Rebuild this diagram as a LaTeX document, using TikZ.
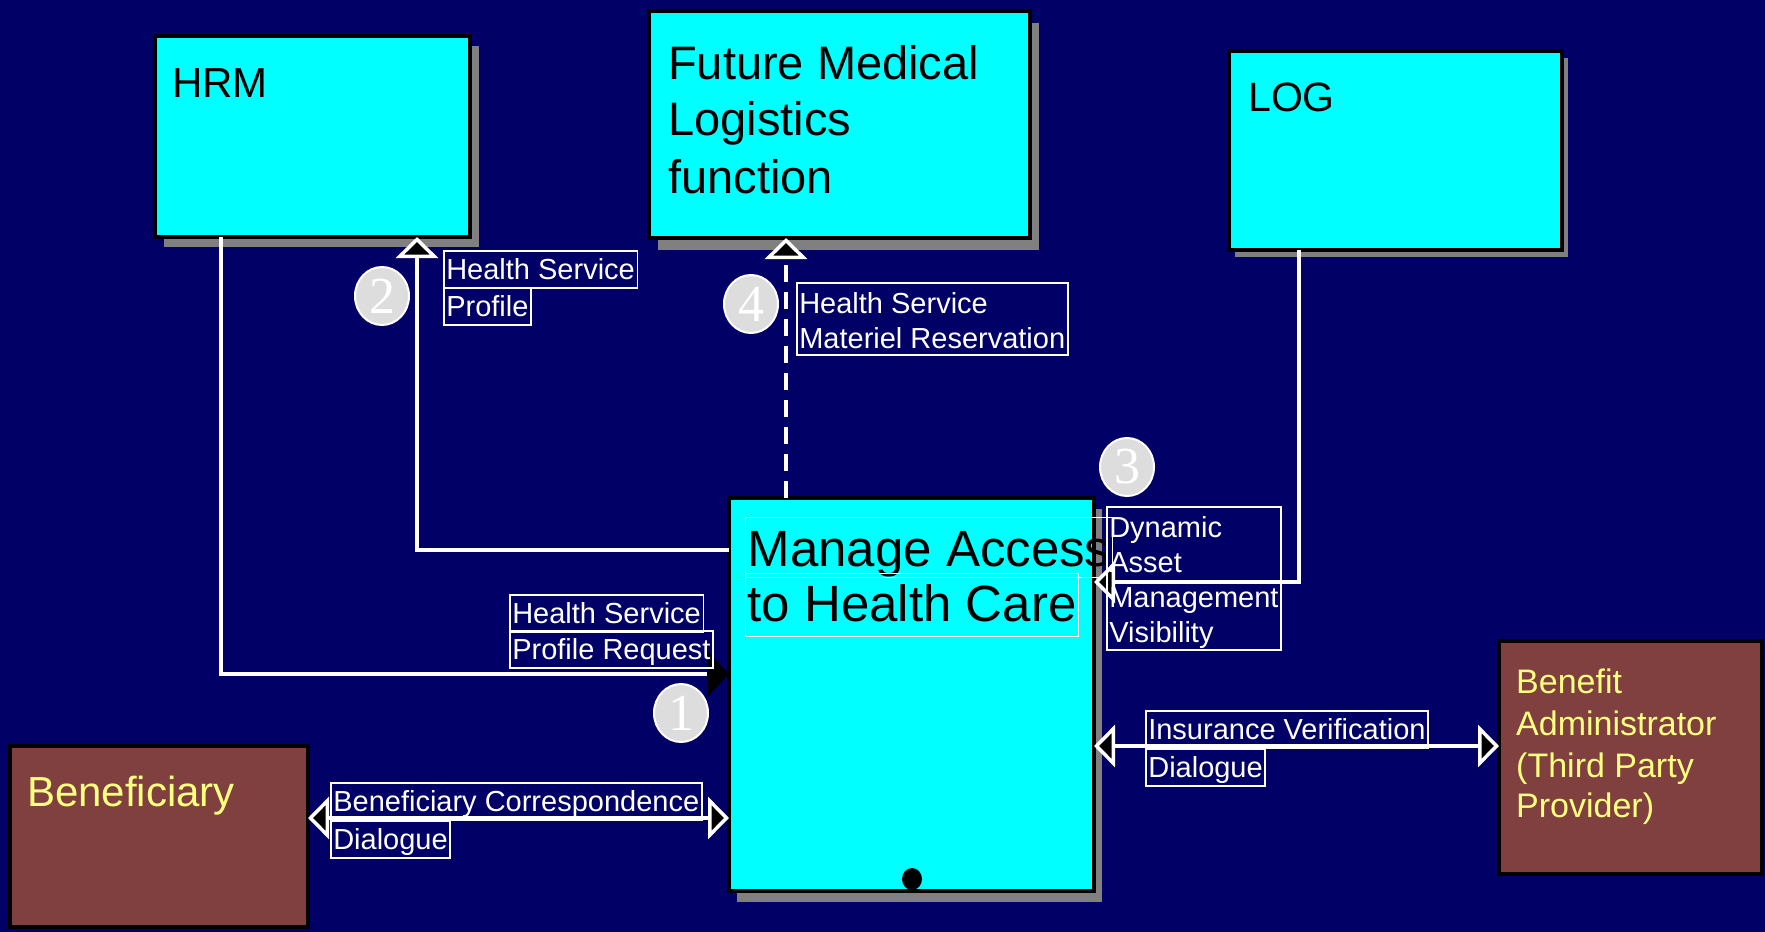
\documentclass[tikz,border=0pt]{standalone}
\usepackage{fontspec}
\setmainfont{Liberation Sans}
\newfontfamily\numfont{Liberation Serif}
\usetikzlibrary{arrows.meta,shapes.geometric,shadows}
\definecolor{bgnavy}{RGB}{0,0,102}
\definecolor{boxcyan}{RGB}{0,255,255}
\definecolor{brownbox}{RGB}{128,64,64}
\definecolor{yeltext}{RGB}{255,255,128}
\definecolor{shadgray}{RGB}{128,128,128}
\definecolor{numgray}{RGB}{221,221,221}
\newcommand\fsz[2]{\fontsize{#1}{#2}\selectfont}
\tikzset{
  opn/.tip={Triangle[length=21pt,width=42pt,fill=black]},
  blk/.tip={Triangle[length=22pt,width=46pt,color=black]},
}
\begin{document}
\begin{tikzpicture}[x=1pt,y=-1pt,
  box/.style={draw=black,line width=4pt,fill=boxcyan,anchor=north west,inner sep=0pt,outer sep=0pt},
  extbox/.style={draw=black,line width=4pt,fill=brownbox,anchor=north west,inner sep=0pt,outer sep=0pt},
  shad/.style 2 args={drop shadow={shadow xshift=#1pt,shadow yshift=-#2pt,fill=shadgray,opacity=1}},
  conn/.style={draw=white,line width=3.5pt},
  lbl/.style={draw=white,line width=1.6pt,text=white,font=\fsz{29}{35},inner xsep=2.5pt,inner ysep=1pt,text height=28pt,text depth=7pt,anchor=north west},
  lblm/.style={draw=white,line width=1.6pt,text=white,font=\fsz{29}{35},inner xsep=2.5pt,inner ysep=0pt,align=left,anchor=north west},
  ttl/.style={draw=white,line width=1.4pt,text=black,font=\fsz{51}{57},inner xsep=2pt,inner ysep=1pt,anchor=north west},
  num/.style={ellipse,fill=numgray,draw=white,line width=2pt,minimum width=54pt,minimum height=58pt,inner sep=0pt,text=white,font=\numfont\fsz{52}{56}},
  boxtxt/.style={anchor=base west,inner sep=0pt,text=black},
]
\fill[bgnavy] (0,0) rectangle (1765,932);
\useasboundingbox (0,0) rectangle (1765,932);

% main boxes
\node[box,shad={9}{10},minimum width=315pt,minimum height=201pt] (hrm) at (155,36) {};
\node[boxtxt,font=\fsz{42}{50}] (hrmT) at (172,97) {HRM};

\node[box,shad={9}{12},minimum width=381pt,minimum height=227pt] (future) at (649,11) {};
\node[boxtxt,font=\fsz{47}{57}] (fut1) at (668,79) {Future Medical};
\node[boxtxt,font=\fsz{47}{57}] (fut2) at (668,135) {Logistics};
\node[boxtxt,font=\fsz{47}{57}] (fut3) at (668,193) {function};

\node[box,shad={6}{7},minimum width=333pt,minimum height=199pt] (log) at (1229,51) {};
\node[boxtxt,font=\fsz{41}{50}] (logT) at (1248,111) {LOG};

\node[box,shad={8}{11},minimum width=365pt,minimum height=393pt] (manage) at (729,498) {};
\node[ttl,text height=48pt,text depth=10pt] (mt1) at (745,517) {Manage Access};
\node[ttl,text height=47pt,text depth=14pt] (mt2) at (745,573) {to Health Care};
\node[ellipse,fill=black,minimum width=20pt,minimum height=22pt,inner sep=0pt] (dot) at (912,879) {};

\node[extbox,minimum width=298pt,minimum height=181pt] (benef) at (10,746) {};
\node[boxtxt,text=yeltext,font=\fsz{42}{50}] (benefT) at (27,806) {Beneficiary};

\node[extbox,minimum width=263pt,minimum height=233pt] (benadm) at (1499,641) {};
\node[boxtxt,text=yeltext,font=\fsz{34}{42}] (ba1) at (1516,693) {Benefit};
\node[boxtxt,text=yeltext,font=\fsz{34}{42}] (ba2) at (1516,735) {Administrator};
\node[boxtxt,text=yeltext,font=\fsz{34}{42}] (ba3) at (1516,777) {(Third Party};
\node[boxtxt,text=yeltext,font=\fsz{34}{42}] (ba4) at (1516,817) {Provider)};

% connectors
\coordinate (p1) at (221,674);
\draw[conn,-{blk}] (hrm.south -| p1) -- (p1) -- (p1 -| manage.west);
\coordinate (p2) at (417,550);
\draw[conn,-{opn}] (p2 -| manage.west) -- (p2) -- (hrm.south -| p2);
\coordinate (p3) at (786,400);
\draw[conn,dash pattern=on 17pt off 10pt,-{opn}] (manage.north -| p3) -- (future.south -| p3);
\coordinate (p4) at (1299,582);
\draw[conn,-{opn}] (log.south -| p4) -- (p4) -- (p4 -| manage.east);
\coordinate (p5) at (1200,746);
\draw[conn,{opn}-{opn}] (p5 -| manage.east) -- (p5 -| benadm.west);
\coordinate (p6) at (500,818);
\draw[conn,{opn}-{opn}] (p6 -| benef.east) -- (p6 -| manage.west);

% labels
\node[lbl] (l2a) at (443,250) {Health Service};
\node[lbl] (l2b) at (443,287) {Profile};
\node[lblm] (l4) at (796,282) {\rule{0pt}{31pt}Health Service\\Materiel Reservation\rule[-6pt]{0pt}{6pt}};
\node[lbl] (l1a) at (509,594) {Health Service};
\node[lbl] (l1b) at (509,630) {Profile Request};
\node[lblm] (l3) at (1106,506) {\rule{0pt}{31pt}Dynamic\\Asset\\Management\\Visibility\rule[-7pt]{0pt}{7pt}};
\node[lbl] (l5a) at (1145,710) {Insurance Verification};
\node[lbl] (l5b) at (1145,748) {Dialogue};
\node[lbl] (l6a) at (330,782) {Beneficiary Correspondence};
\node[lbl] (l6b) at (330,820) {Dialogue};

% numbers
\node[num] (n1) at (681,713) {1};
\node[num] (n2) at (382,296) {2};
\node[num] (n3) at (1127,467) {3};
\node[num] (n4) at (751,304) {4};
\end{tikzpicture}
\end{document}
